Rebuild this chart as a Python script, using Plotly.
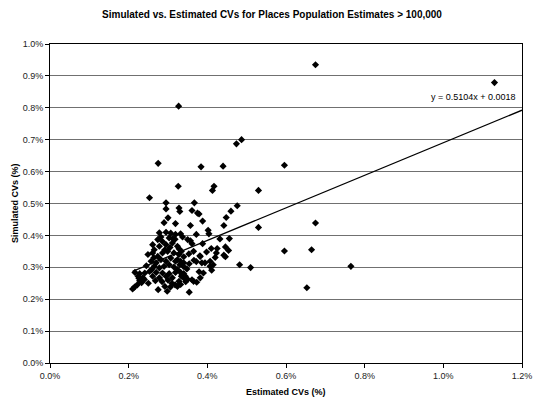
import numpy as np
import plotly.graph_objects as go

# Estimated and simulated coefficients of variation, in percent
est_cv_pct = [
    0.675, 1.130, 0.327, 0.487, 0.474, 0.275, 0.384, 0.440, 0.596, 0.326,
    0.417, 0.413, 0.530, 0.253, 0.367, 0.295, 0.295, 0.328, 0.330, 0.361,
    0.375, 0.379, 0.460, 0.476, 0.448, 0.388, 0.357, 0.442, 0.530, 0.675,
    0.319, 0.402, 0.404, 0.332, 0.372, 0.295, 0.307, 0.319, 0.278, 0.350,
    0.357, 0.361, 0.456, 0.388, 0.328, 0.334, 0.410, 0.425, 0.446, 0.454,
    0.442, 0.446, 0.423, 0.420, 0.596, 0.665, 0.765, 0.653, 0.353, 0.365,
    0.381, 0.340, 0.482, 0.510, 0.354, 0.324, 0.332, 0.340, 0.330, 0.354,
    0.407, 0.415, 0.411, 0.379, 0.324, 0.332, 0.340, 0.344, 0.334, 0.339,
    0.336, 0.340, 0.328, 0.332, 0.324, 0.361, 0.365, 0.373, 0.382, 0.390,
    0.386, 0.394, 0.407, 0.382, 0.274, 0.286, 0.303, 0.261, 0.278, 0.295,
    0.311, 0.324, 0.249, 0.261, 0.274, 0.286, 0.299, 0.315, 0.328, 0.257,
    0.270, 0.282, 0.295, 0.307, 0.319, 0.265, 0.278, 0.290, 0.303, 0.315,
    0.216, 0.228, 0.241, 0.253, 0.270, 0.286, 0.303, 0.319, 0.224, 0.236,
    0.261, 0.278, 0.295, 0.311, 0.210, 0.215, 0.222, 0.233, 0.250, 0.268,
    0.275, 0.292, 0.298, 0.306, 0.318, 0.345, 0.300, 0.285, 0.240, 0.228,
    0.300, 0.290, 0.265, 0.282, 0.312, 0.348, 0.366, 0.245, 0.258, 0.292,
    0.305, 0.318, 0.350, 0.372, 0.398, 0.432, 0.226, 0.264, 0.310, 0.337,
]
sim_cv_pct = [
    0.935, 0.879, 0.805, 0.700, 0.687, 0.626, 0.615, 0.617, 0.620, 0.554,
    0.554, 0.541, 0.541, 0.518, 0.502, 0.502, 0.483, 0.486, 0.475, 0.478,
    0.470, 0.467, 0.476, 0.493, 0.456, 0.445, 0.431, 0.431, 0.425, 0.439,
    0.437, 0.416, 0.405, 0.405, 0.403, 0.410, 0.407, 0.403, 0.408, 0.387,
    0.383, 0.374, 0.390, 0.374, 0.358, 0.350, 0.359, 0.359, 0.364, 0.353,
    0.338, 0.333, 0.345, 0.331, 0.351, 0.355, 0.303, 0.236, 0.342, 0.350,
    0.336, 0.333, 0.308, 0.299, 0.222, 0.324, 0.319, 0.314, 0.308, 0.311,
    0.319, 0.308, 0.291, 0.286, 0.293, 0.284, 0.280, 0.272, 0.272, 0.303,
    0.277, 0.267, 0.256, 0.246, 0.240, 0.261, 0.256, 0.253, 0.267, 0.282,
    0.314, 0.314, 0.303, 0.334, 0.387, 0.381, 0.392, 0.371, 0.366, 0.371,
    0.376, 0.366, 0.340, 0.345, 0.334, 0.345, 0.350, 0.345, 0.340, 0.319,
    0.314, 0.324, 0.319, 0.329, 0.319, 0.303, 0.298, 0.303, 0.308, 0.301,
    0.284, 0.280, 0.282, 0.287, 0.284, 0.282, 0.280, 0.284, 0.272, 0.267,
    0.272, 0.267, 0.272, 0.267, 0.232, 0.238, 0.245, 0.252, 0.250, 0.258,
    0.230, 0.240, 0.225, 0.238, 0.245, 0.255, 0.260, 0.255, 0.262, 0.258,
    0.455, 0.440, 0.355, 0.395, 0.390, 0.295, 0.322, 0.305, 0.292, 0.355,
    0.362, 0.388, 0.262, 0.318, 0.348, 0.389, 0.266, 0.330, 0.250, 0.395,
]

# Linear trendline coefficients (fractions)
slope = 0.5104
intercept = 0.0018

x_ticks = [0.0, 0.002, 0.004, 0.006, 0.008, 0.010, 0.012]
y_ticks = [0.0, 0.001, 0.002, 0.003, 0.004, 0.005, 0.006, 0.007, 0.008, 0.009, 0.010]

est = np.array(est_cv_pct) / 100.0
sim = np.array(sim_cv_pct) / 100.0

font_family = "Liberation Sans, Arial, sans-serif"

fig = go.Figure()

fig.add_trace(go.Scatter(
    x=est, y=sim, mode="markers",
    marker=dict(symbol="diamond", size=5.5, color="black", line=dict(width=0)),
    showlegend=False, hoverinfo="skip",
))

line_x = np.array([est.min(), x_ticks[-1]])
fig.add_trace(go.Scatter(
    x=line_x, y=slope * line_x + intercept, mode="lines",
    line=dict(color="black", width=1.3),
    showlegend=False, hoverinfo="skip",
))

fig.add_annotation(
    x=0.0119, y=0.00835, xref="x", yref="y",
    text=f"y = {slope}x + {intercept}", showarrow=False,
    xanchor="right", yanchor="middle",
    font=dict(family=font_family, size=9, color="black"),
)

# Axis titles
fig.add_annotation(
    x=0.5, y=-0.0895, xref="paper", yref="paper",
    text="<b>Estimated CVs (%)</b>", showarrow=False,
    xanchor="center", yanchor="middle",
    font=dict(family=font_family, size=9, color="black"),
)
fig.add_annotation(
    x=-0.075, y=0.5, xref="paper", yref="paper",
    text="<b>Simulated CVs (%)</b>", showarrow=False, textangle=-90,
    xanchor="center", yanchor="middle",
    font=dict(family=font_family, size=9, color="black"),
)

axis_common = dict(
    showline=True, linecolor="black", linewidth=1, mirror=True,
    ticks="outside", ticklen=4, tickcolor="black", tickwidth=1,
    tickformat=".1%", zeroline=False,
    tickfont=dict(family=font_family, size=9, color="#222222"),
)

fig.update_xaxes(range=[x_ticks[0], x_ticks[-1]], tickvals=x_ticks,
                 showgrid=False, **axis_common)
fig.update_yaxes(range=[y_ticks[0], y_ticks[-1]], tickvals=y_ticks,
                 showgrid=True, gridcolor="#707070", gridwidth=1,
                 **axis_common)

fig.update_layout(
    width=544, height=399,
    margin=dict(l=50, r=12, t=44, b=36),
    paper_bgcolor="white", plot_bgcolor="white",
    title=dict(
        text="<b>Simulated vs. Estimated CVs for Places Population Estimates > 100,000</b>",
        x=0.5, xref="container", xanchor="center",
        y=1 - 14 / 399, yref="container", yanchor="middle",
        font=dict(family=font_family, size=10, color="black"),
    ),
)

fig.write_html("out.html")
